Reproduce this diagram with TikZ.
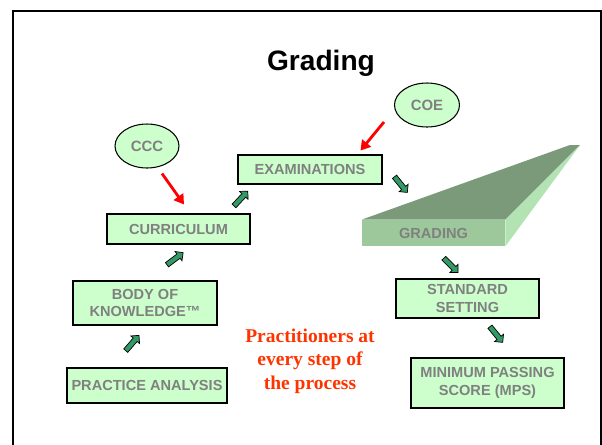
\documentclass[tikz,border=0pt]{standalone}
\usepackage{fontspec}
\setmainfont{Liberation Sans}
\newfontfamily\timesfont{Liberation Serif}
\usetikzlibrary{shapes.geometric,shapes.arrows,arrows.meta,calc,shadows}
\definecolor{boxgreen}{HTML}{CCFFCC}
\definecolor{textgray}{HTML}{808080}
\definecolor{arrowgreen}{HTML}{339966}
\definecolor{topgreen}{HTML}{7A9A7A}
\definecolor{frontgreen}{HTML}{9CC89C}
\definecolor{sidegreen}{HTML}{B3E2B3}
\definecolor{practred}{HTML}{FF3300}

\begin{document}
\begin{tikzpicture}[x=0.02cm, y=-0.02cm,
    box/.style={rectangle, draw=black, fill=boxgreen, line width=0.6pt, inner sep=0pt, align=center, text=textgray, font=\fontsize{8.3}{10}\selectfont\bfseries, drop shadow={shadow xshift=0.6pt, shadow yshift=-0.6pt, fill=black!35, opacity=1}},
    oval/.style={ellipse, draw=black, fill=boxgreen, line width=0.6pt, inner sep=0pt, text=textgray, font=\fontsize{8.5}{10}\selectfont\bfseries},
    redarr/.style={draw=red, line width=1.6pt, -{Triangle[length=5.5pt,width=6.5pt]}},
    garrow/.style={single arrow, draw=black, fill=arrowgreen, line width=0.4pt, minimum height=11.5pt, inner sep=1.3pt, single arrow head extend=1.8pt, single arrow head indent=0pt, sloped}]

    \useasboundingbox (0,0) rectangle (602,444);
    \draw[line width=1.2pt] (13,450) -- (13,11) -- (601,11) -- (601,450);

    \node[anchor=base, font=\fontsize{16}{18}\selectfont\bfseries] (title) at (321,70) {Grading};

    \node[oval, minimum width=1.28cm, minimum height=0.88cm] (ccc) at (147,146) {CCC};
    \node[oval, minimum width=1.30cm, minimum height=0.88cm] (coe) at (427,105) {COE};

    \node[box, minimum width=2.88cm, minimum height=0.58cm] (exam) at (310,169.5) {EXAMINATIONS};
    \node[box, minimum width=2.86cm, minimum height=0.60cm] (cur) at (178.5,229) {CURRICULUM};
    \node[box, minimum width=2.88cm, minimum height=0.88cm] (body) at (145,303) {BODY OF\\KNOWLEDGE™};
    \node[box, minimum width=3.20cm, minimum height=0.70cm] (prac) at (147,385.5) {PRACTICE ANALYSIS};
    \node[box, minimum width=2.86cm, minimum height=0.78cm] (std) at (467.5,298.5) {STANDARD\\SETTING};
    \node[box, minimum width=3.06cm, minimum height=1.00cm] (mps) at (487.5,383) {MINIMUM PASSING\\SCORE (MPS)};

    \node[fill=frontgreen, minimum width=2.86cm, minimum height=0.52cm, inner sep=0pt, text=textgray, font=\fontsize{8.3}{10}\selectfont\bfseries] (grading) at (433.5,233) {GRADING};
    \fill[topgreen] (grading.north west) -- (570,145) -- (580,145) -- (grading.north east) -- cycle;
    \fill[sidegreen] (grading.north east) -- (580,145) -- (grading.south east) -- cycle;

    \node[align=center, text=practred, inner sep=0pt, font=\timesfont\fontsize{11.1}{13.3}\selectfont\bfseries] (pract) at (310,361) {Practitioners at\\every step of\\the process};

    \draw[redarr] ($(ccc.south)+(15,5)$) -- ($(cur.north)+(5.5,-9)$);
    \draw[redarr] ($(coe.west)+(-10,17)$) -- ($(exam.north east)+(-22,-4)$);

    \path ($(prac.north)+(-22,-16)$) -- node[garrow] {} ($(body.south)+(-7,11)$);
    \path ($(body.north)+(21,-15)$) -- node[garrow] {} ($(cur.south)+(3.5,9)$);
    \path ($(cur.north east)+(-17,-7)$) -- node[garrow] {} ($(exam.south west)+(9,8)$);
    \path ($(exam.south east)+(11,-9)$) -- node[garrow] {} ($(grading.north west)+(45,-28)$);
    \path ($(grading.south)+(9.5,11)$) -- node[garrow] {} ($(std.north)+(-10.5,-7)$);
    \path ($(std.south)+(21.5,7)$) -- node[garrow] {} ($(mps.north)+(14.5,-16)$);
\end{tikzpicture}
\end{document}
